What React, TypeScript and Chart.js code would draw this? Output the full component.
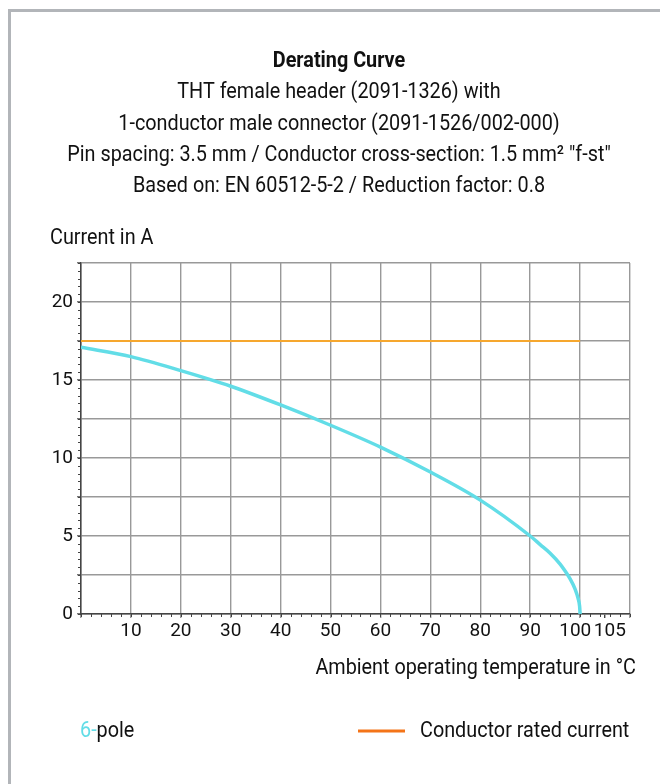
import React, { useEffect, useRef } from "react";
import { Chart, registerables } from "chart.js";

Chart.register(...registerables);

// ---- data ----
const titleLines = [
  "Derating Curve",
  "THT female header (2091-1326) with",
  "1-conductor male connector (2091-1526/002-000)",
  "Pin spacing: 3.5 mm / Conductor cross-section: 1.5 mm\u00B2 \"f-st\"",
  "Based on: EN 60512-5-2 / Reduction factor: 0.8",
];
const yAxisTitle = "Current in A";
const xAxisTitle = "Ambient operating temperature in \u00B0C";
const seriesName = "6-pole";
const ratedName = "Conductor rated current";

const temperatures = [0, 10, 20, 30, 40, 50, 60, 70, 80, 90, 92, 94, 96, 97, 98, 99, 99.6, 99.9, 100];
const current6Pole = [17.1, 16.5, 15.6, 14.6, 13.4, 12.1, 10.7, 9.1, 7.3, 5.0, 4.45, 3.9, 3.2, 2.75, 2.25, 1.6, 1.0, 0.5, 0];
const ratedTemps = [0, 100];
const ratedCurrent = [17.5, 17.5];

const xTickValues = [0, 10, 20, 30, 40, 50, 60, 70, 80, 90, 100, 105, 110];
const xTickLabels = ["", "10", "20", "30", "40", "50", "60", "70", "80", "90", "100\u2002", "\u2002105", ""];
const yTickValues = [0, 2.5, 5, 7.5, 10, 12.5, 15, 17.5, 20, 22.5];
const yTickLabels = ["0", "", "5", "", "10", "", "15", "", "20", ""];

const CYAN = "#62dde7";
const ORANGE = "#f6a72e";
const LEGEND_ORANGE = "#f47418";
const TEXT = "#111111";
const FONT = "Roboto, 'Noto Sans', sans-serif";
const SX = 0.9;
const FS = 22;

function drawText(ctx: CanvasRenderingContext2D, text: string, x: number, y: number, align: CanvasTextAlign, font: string, color: string) {
  ctx.save();
  ctx.font = font;
  ctx.fillStyle = color;
  ctx.textAlign = align;
  ctx.textBaseline = "middle";
  ctx.scale(SX, 1);
  ctx.fillText(text, x / SX, y);
  ctx.restore();
}

const textPlugin = {
  id: "texts",
  afterDraw(chart: any) {
    const ctx: CanvasRenderingContext2D = chart.ctx;
    const area = chart.chartArea;
    const cx = 339;
    const ys = [61, 92, 124, 155, 186];
    titleLines.forEach((t, i) => {
      drawText(ctx, t, cx, ys[i], "center", `${i === 0 ? "bold " : ""}${FS}px ${FONT}`, TEXT);
    });
    drawText(ctx, yAxisTitle, 50, 238, "left", `${FS}px ${FONT}`, TEXT);
    drawText(ctx, xAxisTitle, 636, 668, "right", `${FS}px ${FONT}`, TEXT);

    // legend
    const ly = 731;
    const font = `${FS}px ${FONT}`;
    ctx.save();
    ctx.font = font;
    const w6 = ctx.measureText("6-").width * SX;
    ctx.restore();
    drawText(ctx, "6-", 80, ly, "left", font, CYAN);
    drawText(ctx, "pole", 80 + w6, ly, "left", font, TEXT);
    ctx.save();
    ctx.strokeStyle = LEGEND_ORANGE;
    ctx.lineWidth = 3;
    ctx.beginPath();
    ctx.moveTo(358, ly);
    ctx.lineTo(405, ly);
    ctx.stroke();
    ctx.restore();
    drawText(ctx, ratedName, 420, ly, "left", font, TEXT);

    // minor ticks
    const xs = chart.scales.x;
    const yscale = chart.scales.y;
    ctx.save();
    ctx.strokeStyle = "#444";
    ctx.lineWidth = 1;
    ctx.beginPath();
    for (let v = 0; v <= 22.5 + 1e-9; v += 0.5) {
      const py = Math.round(yscale.getPixelForValue(v)) + 0.5;
      ctx.moveTo(area.left - 3, py);
      ctx.lineTo(area.left, py);
    }
    for (let v = 0; v <= 110 + 1e-9; v += 2) {
      const px = Math.round(xs.getPixelForValue(v)) + 0.5;
      ctx.moveTo(px, area.bottom);
      ctx.lineTo(px, area.bottom + 3);
    }
    ctx.stroke();
    ctx.restore();
  },
};

export default function App() {
  const ref = useRef<HTMLCanvasElement | null>(null);
  useEffect(() => {
    if (!ref.current) return;
    const chart = new Chart(ref.current, {
      type: "scatter",
      data: {
        datasets: [
          {
            label: ratedName,
            data: ratedTemps.map((x, i) => ({ x, y: ratedCurrent[i] })),
            showLine: true,
            borderColor: ORANGE,
            borderWidth: 2,
            pointRadius: 0,
          },
          {
            label: seriesName,
            data: temperatures.map((x, i) => ({ x, y: current6Pole[i] })),
            showLine: true,
            borderColor: CYAN,
            borderWidth: 3.5,
            pointRadius: 0,
            cubicInterpolationMode: "monotone",
          },
        ],
      },
      options: {
        responsive: false,
        animation: false,
        devicePixelRatio: 1,
        layout: { padding: { left: 0, right: 30, top: 263, bottom: 130 } },
        plugins: { legend: { display: false }, tooltip: { enabled: false }, title: { display: false } },
        scales: {
          x: {
            type: "linear",
            min: 0,
            max: 110,
            afterFit: (s: any) => { s.height = 40; },
            afterBuildTicks: (s: any) => { s.ticks = xTickValues.map((v) => ({ value: v })); },
            ticks: {
              autoSkip: false,
              maxRotation: 0,
              padding: 2,
              color: TEXT,
              font: { family: FONT, size: 19 },
              callback: (v: any) => {
                const i = xTickValues.indexOf(Number(v));
                return i >= 0 ? xTickLabels[i] : "";
              },
            },
            grid: {
              color: (c: any) => (c.tick && c.tick.value === 105 ? "rgba(0,0,0,0)" : "#999999"),
              lineWidth: 1.4,
              tickLength: 4,
              tickColor: (c: any) => (c.tick && c.tick.value === 105 ? "#444" : "#999999"),
            },
            border: { color: "#444444", width: 1.5 },
          },
          y: {
            type: "linear",
            min: 0,
            max: 22.5,
            afterFit: (s: any) => { s.width = 81; },
            afterBuildTicks: (s: any) => { s.ticks = yTickValues.map((v) => ({ value: v })); },
            ticks: {
              autoSkip: false,
              padding: 4,
              color: TEXT,
              font: { family: FONT, size: 19 },
              callback: (v: any) => {
                const i = yTickValues.indexOf(Number(v));
                return i >= 0 ? yTickLabels[i] : "";
              },
            },
            grid: { color: "#999999", lineWidth: 1.4, tickLength: 4, tickColor: "#777" },
            border: { color: "#444444", width: 1.5 },
          },
        },
      },
      plugins: [textPlugin],
    } as any);
    return () => chart.destroy();
  }, []);

  return (
    <div style={{ position: "absolute", left: 0, top: 0, width: 660, height: 784, overflow: "hidden", background: "#fff" }}>
      <div
        style={{
          position: "absolute",
          left: 8,
          top: 9,
          width: 700,
          height: 800,
          borderLeft: "3px solid #b2b5b9",
          borderTop: "3px solid #b2b5b9",
        }}
      />
      <canvas ref={ref} width={660} height={784} style={{ position: "absolute", left: 0, top: 0, width: 660, height: 784 }} />
    </div>
  );
}
